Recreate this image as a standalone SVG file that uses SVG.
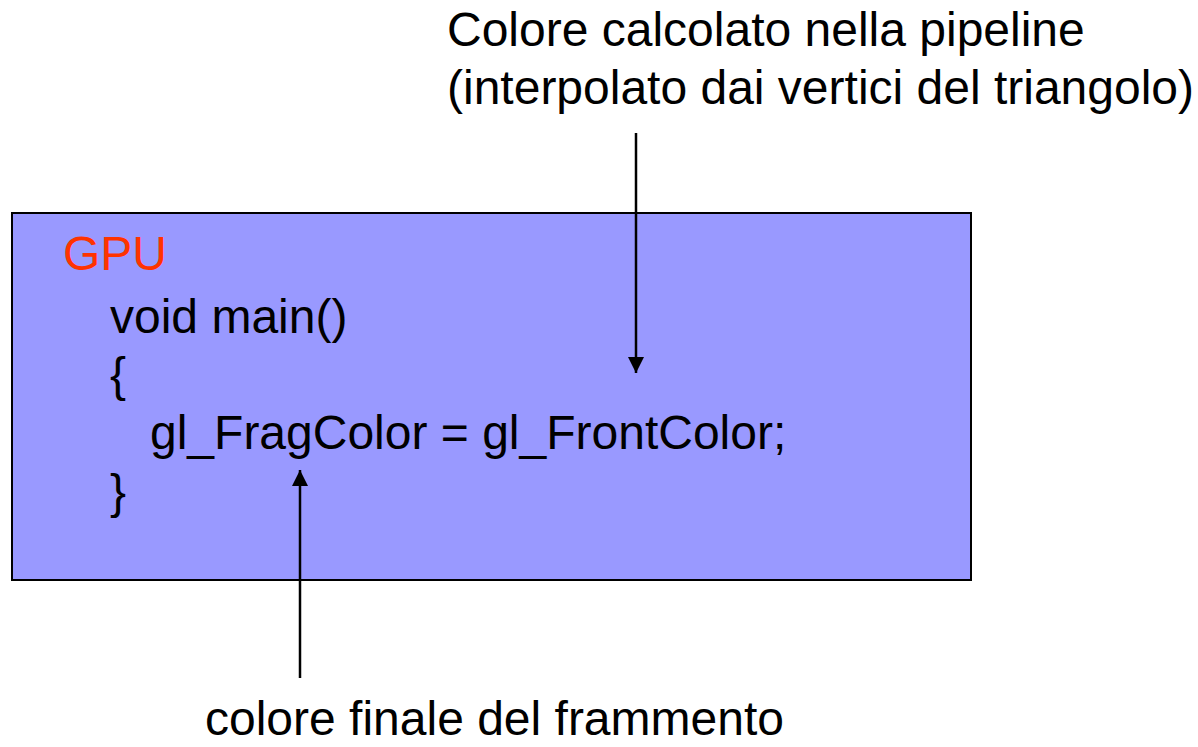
<svg xmlns="http://www.w3.org/2000/svg" width="1198" height="747" viewBox="0 0 1198 747">
  <style>
    text { font-family: "Liberation Sans", Arial, sans-serif; font-size: 48px; fill: #000; }
    .red { fill: #FF3300; }
    .box { fill: #9999FF; stroke: #000; stroke-width: 2; }
    .conn { stroke: #000; stroke-width: 2.5; fill: none; marker-end: url(#arrow); }
  </style>
  <defs>
    <marker id="arrow" viewBox="0 0 16 16" refX="16" refY="8" markerWidth="16" markerHeight="16" markerUnits="userSpaceOnUse" orient="auto">
      <path d="M0,0 L16,8 L0,16 Z" fill="#000"/>
    </marker>
  </defs>

  <!-- shader box -->
  <g id="gpu">
    <rect class="box" x="12" y="213" width="959" height="367"/>
    <text class="red" x="63" y="270">GPU</text>
    <text x="110" y="333">void main()</text>
    <text x="110" y="391">{</text>
    <text x="150" y="449">gl_FragColor = gl_FrontColor;</text>
    <text x="110" y="508">}</text>
  </g>

  <!-- labels -->
  <g id="label-pipeline">
    <text x="447" y="46">Colore calcolato nella pipeline</text>
    <text x="447" y="104">(interpolato dai vertici del triangolo)</text>
  </g>
  <g id="label-final">
    <text x="205" y="735">colore finale del frammento</text>
  </g>

  <!-- connectors -->
  <g id="connectors">
    <line class="conn" x1="636" y1="133" x2="636" y2="373"/>
    <line class="conn" x1="300" y1="678" x2="300" y2="470"/>
  </g>
</svg>
